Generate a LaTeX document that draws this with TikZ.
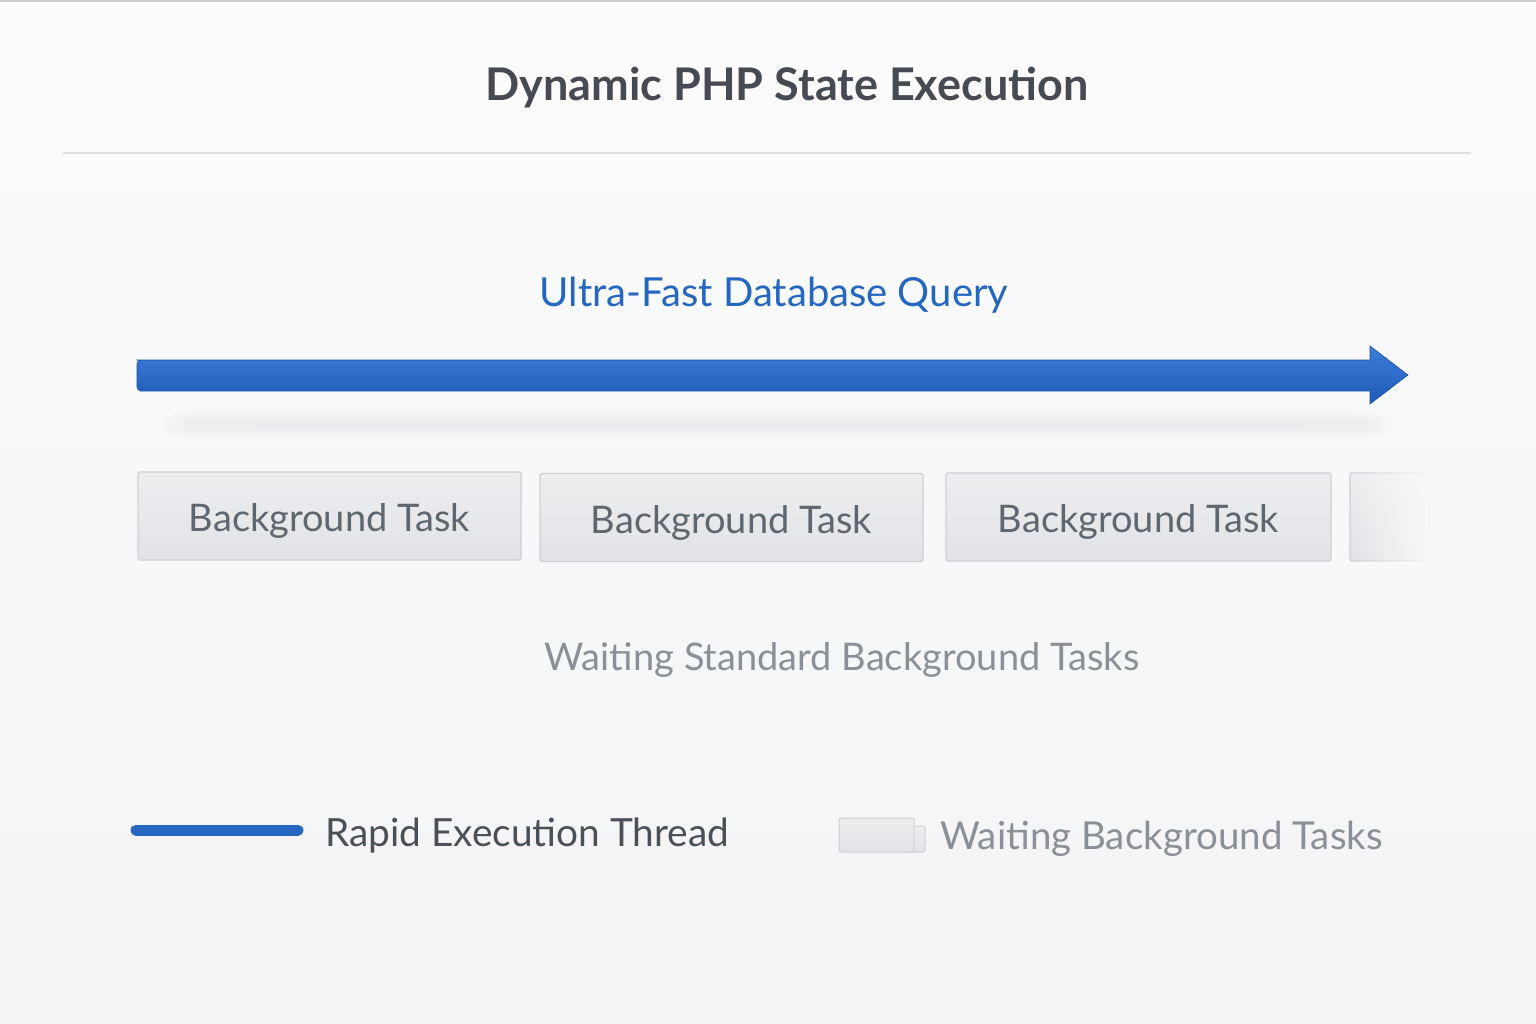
\documentclass[tikz,border=0pt]{standalone}
\usepackage{fontspec}
\setmainfont{Lato}
\usetikzlibrary{fadings}
\definecolor{bgtop}{HTML}{FCFCFD}
\definecolor{bgbot}{HTML}{F3F4F6}
\definecolor{titlecol}{HTML}{464B53}
\definecolor{rulecol}{HTML}{DEE0E3}
\definecolor{qblue}{HTML}{2466C0}
\definecolor{arrtop}{HTML}{3C7DDA}
\definecolor{arrbot}{HTML}{1E5AB6}
\definecolor{boxtop}{HTML}{EDEEF0}
\definecolor{boxbot}{HTML}{E1E3E6}
\definecolor{boxline}{HTML}{CDD0D4}
\definecolor{boxtext}{HTML}{5E6670}
\definecolor{waittext}{HTML}{8B9098}
\definecolor{legtext}{HTML}{4A5058}
\definecolor{shadowcol}{HTML}{9A9EA4}
\tikzset{
  taskbox/.style={draw=boxline, line width=1.2pt, top color=boxtop, bottom color=boxbot,
    rounded corners=1.5pt, minimum width=383pt, minimum height=88pt, inner sep=0pt,
    text=boxtext, font=\fontsize{38}{40}\selectfont},
  plain/.style={inner sep=0pt, anchor=center}
}
\newcommand{\lowered}[1]{\raisebox{-5pt}[\height][\depth]{#1}}
\begin{document}
\begin{tikzpicture}[x=1pt,y=-1pt]
\useasboundingbox (0,0) rectangle (1536,1024);
\shade[top color=bgtop, bottom color=bgbot] (0,0) rectangle (1536,1024);
\draw[rulecol!80!gray, line width=2pt] (0,1) -- (1536,1);
% title
\node[plain, text=titlecol, font=\bfseries\fontsize{45}{50}\selectfont] (title) at (787,88) {Dynamic PHP State Execution};
\coordinate (ruleL) at (63,153);
\coordinate (ruleR) at (1471,153);
\draw[rulecol, line width=1.2pt] (ruleL) -- (ruleR);
% query label
\node[plain, text=qblue, font=\fontsize{40}{42}\selectfont] (query) at (774,295) {Ultra-Fast Database Query};
% soft shadow under arrow
\foreach \w/\o/\a/\b in {34/0.02/200/1350,26/0.025/180/1370,18/0.03/170/1385,12/0.035/190/1370,6/0.04/260/1300}{
  \draw[shadowcol, line width=\w pt, line cap=round, opacity=\o] (\a,425) -- (\b,425);
}
% arrow
\shade[top color=arrtop, bottom color=arrbot, draw=arrbot!90!black, line width=0.6pt]
  (140,360) -- (1370,360) -- (1370,346) -- (1408,375) -- (1370,404) -- (1370,391) -- (140,391)
  [rounded corners=4pt] -- (137,391) -- (137,360) -- cycle;
% boxes
\node[taskbox] (b1) at (329.5,516) {\lowered{Background Task}};
\node[taskbox] (b2) at (731.5,517.5) {\lowered{Background Task}};
\node[taskbox, minimum width=385pt] (b3) at (1138.5,517) {\lowered{Background Task}};
\node[taskbox, minimum width=80pt, path fading=east] (b4) at (1390,517) {};
% waiting label
\node[plain, text=waittext, font=\fontsize{38}{40}\selectfont] (wait) at (842,660) {Waiting Standard Background Tasks};
% legend
\coordinate (l1a) at (136,830);
\coordinate (l1b) at (298,830);
\draw[qblue, line width=11pt, line cap=round] (l1a) -- (l1b);
\node[plain, anchor=west, text=legtext, font=\fontsize{38.8}{42}\selectfont] (leg1) at (325,836) {Rapid Execution Thread};
\node[draw=boxline, line width=1pt, top color=boxtop, bottom color=boxbot, rounded corners=2pt,
  minimum width=20pt, minimum height=26pt, inner sep=0pt] (legtab) at (915,839) {};
\node[draw=boxline, line width=1pt, top color=boxtop, bottom color=boxbot, rounded corners=2pt,
  minimum width=75pt, minimum height=34pt, inner sep=0pt] (legbox) at (876.5,835) {};
\node[plain, anchor=west, text=waittext, font=\fontsize{38.5}{42}\selectfont] (leg2) at (940,839) {Waiting Background Tasks};
\end{tikzpicture}
\end{document}
